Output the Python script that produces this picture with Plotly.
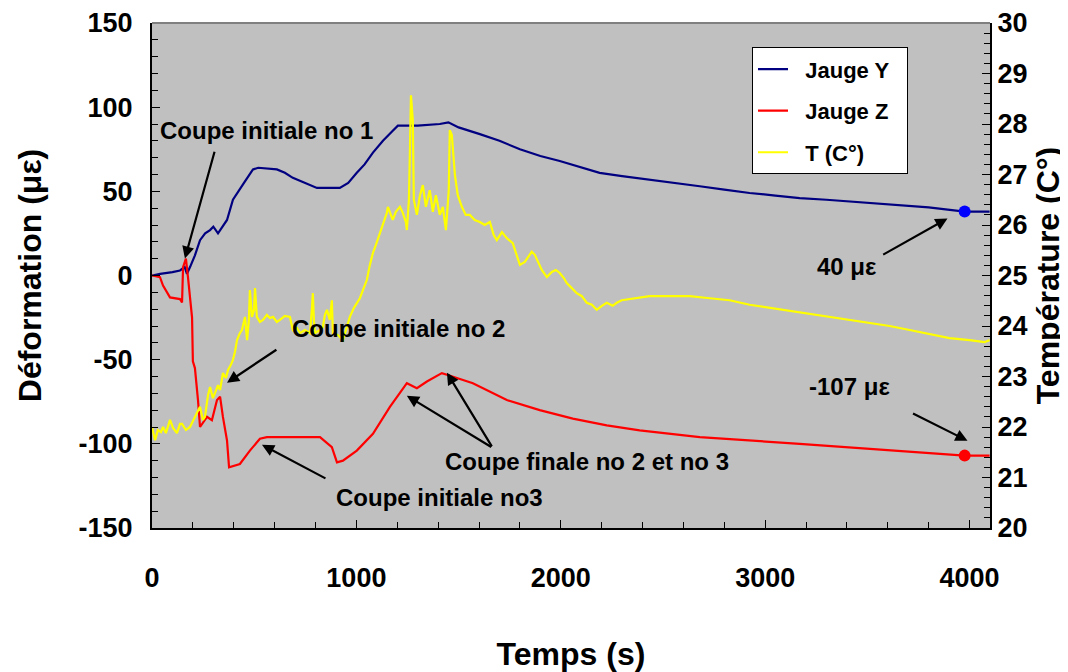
import plotly.graph_objects as go

# ---------------- data ----------------
t_Y = [0, 40, 100, 137, 160, 171, 186, 210, 235, 260, 284, 300, 323, 345, 367, 396, 416, 450, 494, 520,
       611, 650, 689, 750, 807, 919, 960, 1002, 1040, 1081, 1130, 1178, 1203, 1300, 1408, 1450, 1500,
       1604, 1700, 1800, 1900, 1995, 2100, 2190, 2300, 2435, 2550, 2680, 2800, 2924, 3050, 3169, 3300,
       3413, 3550, 3658, 3800, 3976, 4098]
jauge_Y = [0, 1, 2, 3, 5, 1, 5, 12, 21, 25, 27, 29, 25, 29, 33, 45, 49, 55, 63, 64,
           63, 61, 58, 55, 52, 52, 55, 61, 66, 73, 80, 86, 89, 89, 90, 91, 88,
           84, 80, 75, 71, 68, 64, 61, 59, 57, 55, 53, 51, 49, 47.5, 46, 45,
           44, 43, 42, 40.5, 38, 38]

t_Z = [0, 39, 54, 88, 137, 147, 152, 166, 176, 186, 196, 200, 210, 225, 235, 269, 293, 318, 333, 347,
       367, 377, 430, 479, 528, 562, 822, 880, 905, 934, 1002, 1081, 1164, 1247, 1296, 1345, 1418, 1443,
       1570, 1736, 1897, 2059, 2225, 2386, 2680, 3169, 3658, 3976, 4098]
jauge_Z = [0, -1, -6, -13, -14, -16, 5, 10, -1, -13, -25, -51, -55, -74, -90, -84, -86, -74, -72, -84,
           -98, -114, -112, -104, -97, -96, -96, -102, -111, -110, -104, -94, -78, -64, -67, -63, -58, -59,
           -64, -74, -80, -85, -89, -92, -96, -100, -104, -107, -107]

t_T = [0, 15, 29, 44, 54, 68, 88, 103, 122, 137, 147, 166, 186, 205, 220, 235, 249, 259, 274, 284,
       298, 308, 323, 333, 347, 362, 372, 386, 396, 406, 416, 430, 440, 455, 465, 474, 479, 489, 499, 504,
       513, 528, 543, 562, 577, 592, 611, 626, 650, 675, 689, 709, 724, 748, 773, 782, 787, 792, 797, 822,
       836, 846, 856, 870, 880, 885, 910, 934, 949, 968, 988, 1002, 1017, 1032, 1051, 1066, 1081, 1095,
       1115, 1134, 1149, 1154, 1169, 1178, 1193, 1213, 1227, 1242, 1247, 1257, 1262, 1267, 1276, 1281,
       1296, 1311, 1325, 1340, 1359, 1374, 1389, 1408, 1423, 1438, 1452, 1457, 1467, 1482, 1496, 1516,
       1535, 1555, 1579, 1604, 1628, 1653, 1672, 1687, 1712, 1736, 1765, 1785, 1800, 1824, 1848, 1858,
       1873, 1883, 1907, 1932, 1956, 1976, 1995, 2015, 2029, 2054, 2078, 2103, 2127, 2152, 2176, 2201,
       2225, 2254, 2274, 2298, 2333, 2367, 2435, 2533, 2631, 2729, 2826, 2924, 3022, 3120, 3218, 3315,
       3413, 3511, 3609, 3707, 3804, 3902, 4000, 4073, 4098]
temp_T = [22.00, 21.74, 21.94, 21.90, 22.00, 21.88, 22.14, 21.98, 21.88, 22.06, 22.06, 21.94, 22.00, 22.14, 22.28, 22.40, 22.14, 22.20, 22.63, 22.79,
          22.57, 22.67, 22.83, 22.73, 23.07, 22.97, 23.13, 23.23, 23.33, 23.49, 23.72, 23.86, 23.92, 24.18, 23.72, 24.12, 24.71, 24.18, 24.32, 24.75,
          24.18, 24.08, 24.12, 24.22, 24.16, 24.18, 24.08, 24.12, 24.20, 24.18, 23.92, 23.96, 23.86, 23.92, 23.86, 24.32, 24.65, 24.12, 23.86, 23.92,
          23.98, 24.22, 24.32, 24.12, 24.51, 23.86, 23.82, 23.72, 23.92, 24.18, 24.36, 24.46, 24.55, 24.71, 24.91, 25.21, 25.45, 25.60,
          25.84, 26.06, 26.24, 26.36, 26.20, 26.10, 26.26, 26.36, 26.24, 26.06, 25.90, 26.50, 27.49, 28.57, 28.08, 26.50,
          26.20, 26.59, 26.79, 26.36, 26.69, 26.26, 26.59, 26.20, 26.36, 25.90, 26.69, 27.88, 27.78, 26.99, 26.59, 26.36,
          26.20, 26.20, 26.10, 26.06, 26.00, 26.06, 25.80, 25.70, 25.86, 25.74, 25.64, 25.41, 25.21, 25.27, 25.41, 25.47,
          25.41, 25.31, 25.11, 24.97, 25.07, 25.11, 25.05, 24.95, 24.85, 24.75, 24.65, 24.59, 24.46, 24.42, 24.32, 24.40,
          24.46, 24.40, 24.46, 24.51, 24.53, 24.55, 24.59, 24.59, 24.59, 24.55, 24.51, 24.42, 24.36, 24.30, 24.24, 24.18,
          24.12, 24.06, 24.00, 23.92, 23.84, 23.76, 23.72, 23.68, 23.72]

mark_t = [3976]
mark_Y = [38]
mark_Z = [-107]

x_ticks = [0, 1000, 2000, 3000, 4000]
y_ticks = [-150, -100, -50, 0, 50, 100, 150]
y_ticktext = ["-150", "-100", "-50", "0", "50", "100", "150"]

series_names = ["\u00a0\u00a0Jauge Y\u00a0\u00a0", "\u00a0\u00a0Jauge Z\u00a0\u00a0", "\u00a0\u00a0T (C°)\u00a0\u00a0"]

FONT = "Arial, 'Liberation Sans', sans-serif"

fig = go.Figure()
fig.add_trace(go.Scatter(x=t_Y, y=jauge_Y, mode="lines", name=series_names[0],
                         line=dict(color="#000080", width=2.2), legendgroup="a"))
fig.add_trace(go.Scatter(x=t_Z, y=jauge_Z, mode="lines", name=series_names[1],
                         line=dict(color="#FF0000", width=2.2), legendgroup="b"))
fig.add_trace(go.Scatter(x=t_T, y=temp_T, mode="lines", name=series_names[2], yaxis="y2",
                         line=dict(color="#FFFF00", width=2.2), legendgroup="c"))
fig.add_trace(go.Scatter(x=mark_t, y=mark_Y, mode="markers", showlegend=False,
                         marker=dict(color="#0000FF", size=12)))
fig.add_trace(go.Scatter(x=mark_t, y=mark_Z, mode="markers", showlegend=False,
                         marker=dict(color="#FF0000", size=12)))

# arrows (tail -> head) in data coords
arrows = [
    (308, 74.4, 161, 10.1),
    (616, -43.5, 367, -63.7),
    (856, -121, 538, -100.6),
    (1667, -102.4, 1247, -71.4),
    (1667, -102.4, 1443, -57.7),
    (3570, 11.9, 3892, 33.9),
    (3716, -81.5, 3990, -98.2),
]
annotations = []
for ax_, ay_, x_, y_ in arrows:
    annotations.append(dict(x=x_, y=y_, ax=ax_, ay=ay_, xref="x", yref="y", axref="x", ayref="y",
                            text="", showarrow=True, arrowhead=2, arrowsize=1.1, arrowwidth=2.2,
                            arrowcolor="black"))
labels = [
    ("Coupe initiale no 1", 560, 86.3),
    ("Coupe initiale no 2", 1208, -31.5),
    ("Coupe initiale no3", 1408, -132),
    ("Coupe finale no 2 et no 3", 2127, -110.7),
    ("40 με", 3399, 5.4),
    ("-107 με", 3415, -66),
]
for txt, x_, y_ in labels:
    annotations.append(dict(x=x_, y=y_, xref="x", yref="y", text=txt, showarrow=False,
                            font=dict(family=FONT, size=24, color="black", weight="bold")))

tickfont = dict(family=FONT, size=27, color="black", weight="bold")
titlefont = dict(family=FONT, size=32, color="black", weight="bold")

fig.update_layout(
    width=1060, height=664,
    margin=dict(l=144, r=78, t=15, b=144),
    paper_bgcolor="white", plot_bgcolor="#C0C0C0",
    font=dict(family=FONT, color="black"),
    xaxis=dict(range=[0, 4100], tickvals=x_ticks, ticks="inside", ticklen=8, tickwidth=1,
               tickcolor="black", showgrid=False, zeroline=False, showline=True, linecolor="black",
               linewidth=2, tickfont=tickfont, ticklabelstandoff=25, automargin=False,
               minor=dict(dtick=200, ticks="inside", ticklen=6, tickcolor="black"),
               title=dict(text="Temps (s)", font=titlefont, standoff=50)),
    yaxis=dict(range=[-150, 150], tickvals=y_ticks, ticktext=y_ticktext, ticks="inside", ticklen=8,
               tickcolor="black", showgrid=False, zeroline=False, showline=True, linecolor="black",
               linewidth=2, tickfont=tickfont, ticklabelstandoff=12, automargin=False,
               minor=dict(dtick=10, ticks="inside", ticklen=6, tickcolor="black"),
               title=dict(text="Déformation (με)", font=titlefont, standoff=27)),
    yaxis2=dict(range=[20, 30], dtick=1, overlaying="y", side="right", ticks="inside", ticklen=8,
                tickcolor="black", showgrid=False, zeroline=False, showline=True, linecolor="black",
                linewidth=2, tickfont=tickfont, ticklabelstandoff=0, automargin=False,
                minor=dict(dtick=0.2, ticks="inside", ticklen=6, tickcolor="black"),
                title=dict(text="Température (C°)", font=titlefont, standoff=10)),
    legend=dict(x=0.716, y=0.952, xanchor="left", yanchor="top", bgcolor="white",
                bordercolor="black", borderwidth=1, traceorder="grouped", tracegroupgap=10,
                font=dict(family=FONT, size=22, color="black", weight="bold")),
    annotations=annotations,
    shapes=[dict(type="line", xref="paper", yref="paper", x0=0, x1=1, y0=1, y1=1,
                 line=dict(color="#808080", width=2))],
    showlegend=True,
)

fig.write_html("out.html")
